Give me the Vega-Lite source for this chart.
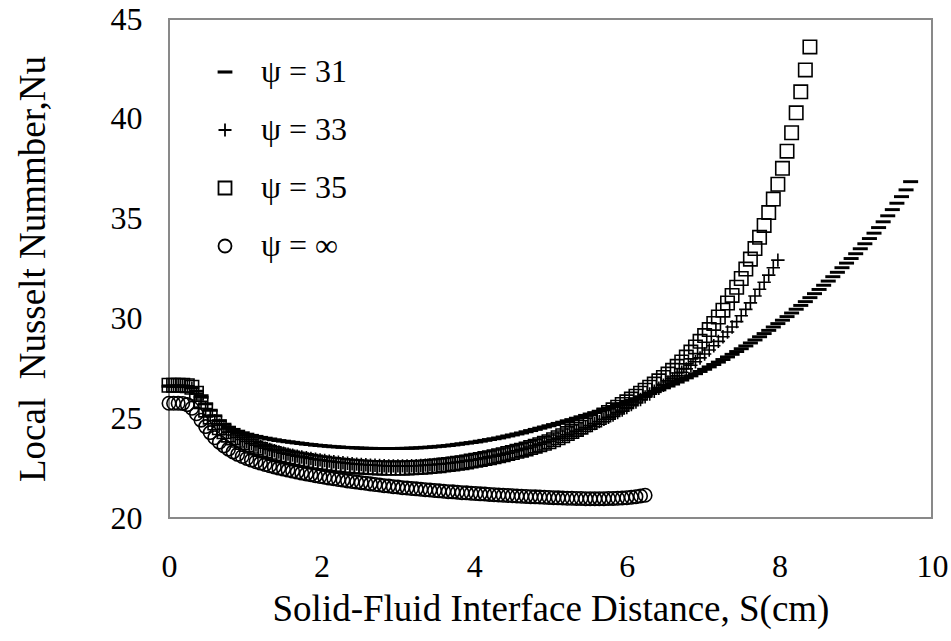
{
"$schema": "https://vega.github.io/schema/vega-lite/v6.json",
"autosize": {"type": "none"},
"width": 763,
"height": 499,
"padding": {"left": 169, "top": 19, "right": 19, "bottom": 123},
"background": "white",
"data": {"values": [
{"g":"31","s":0,"n":26.6},{"g":"31","s":0.06,"n":26.6},{"g":"31","s":0.12,"n":26.6},{"g":"31","s":0.18,"n":26.6},{"g":"31","s":0.24,"n":26.58},{"g":"31","s":0.3,"n":26.52},{"g":"31","s":0.36,"n":26.35},{"g":"31","s":0.42,"n":26.05},{"g":"31","s":0.48,"n":25.72},{"g":"31","s":0.54,"n":25.4},{"g":"31","s":0.6,"n":25.12},{"g":"31","s":0.66,"n":24.88},{"g":"31","s":0.72,"n":24.7},{"g":"31","s":0.78,"n":24.55},{"g":"31","s":0.84,"n":24.44},{"g":"31","s":0.9,"n":24.35},{"g":"31","s":0.96,"n":24.27},{"g":"31","s":1.02,"n":24.2},{"g":"31","s":1.08,"n":24.14},{"g":"31","s":1.14,"n":24.09},{"g":"31","s":1.2,"n":24.04},{"g":"31","s":1.26,"n":24.0},{"g":"31","s":1.32,"n":23.96},{"g":"31","s":1.38,"n":23.92},{"g":"31","s":1.44,"n":23.88},{"g":"31","s":1.5,"n":23.85},{"g":"31","s":1.56,"n":23.82},{"g":"31","s":1.62,"n":23.79},{"g":"31","s":1.68,"n":23.76},{"g":"31","s":1.74,"n":23.73},{"g":"31","s":1.8,"n":23.7},{"g":"31","s":1.86,"n":23.68},{"g":"31","s":1.92,"n":23.65},{"g":"31","s":1.98,"n":23.63},{"g":"31","s":2.04,"n":23.61},{"g":"31","s":2.1,"n":23.59},{"g":"31","s":2.16,"n":23.57},{"g":"31","s":2.22,"n":23.56},{"g":"31","s":2.28,"n":23.54},{"g":"31","s":2.34,"n":23.53},{"g":"31","s":2.4,"n":23.52},{"g":"31","s":2.46,"n":23.51},{"g":"31","s":2.52,"n":23.5},{"g":"31","s":2.58,"n":23.49},{"g":"31","s":2.64,"n":23.49},{"g":"31","s":2.7,"n":23.48},{"g":"31","s":2.76,"n":23.48},{"g":"31","s":2.82,"n":23.48},{"g":"31","s":2.88,"n":23.48},{"g":"31","s":2.94,"n":23.48},{"g":"31","s":3.0,"n":23.48},{"g":"31","s":3.06,"n":23.49},{"g":"31","s":3.12,"n":23.49},{"g":"31","s":3.18,"n":23.5},{"g":"31","s":3.24,"n":23.51},{"g":"31","s":3.3,"n":23.52},{"g":"31","s":3.36,"n":23.54},{"g":"31","s":3.42,"n":23.55},{"g":"31","s":3.48,"n":23.57},{"g":"31","s":3.54,"n":23.59},{"g":"31","s":3.6,"n":23.61},{"g":"31","s":3.66,"n":23.63},{"g":"31","s":3.72,"n":23.66},{"g":"31","s":3.78,"n":23.69},{"g":"31","s":3.84,"n":23.72},{"g":"31","s":3.9,"n":23.75},{"g":"31","s":3.96,"n":23.78},{"g":"31","s":4.02,"n":23.81},{"g":"31","s":4.08,"n":23.85},{"g":"31","s":4.14,"n":23.89},{"g":"31","s":4.2,"n":23.93},{"g":"31","s":4.26,"n":23.97},{"g":"31","s":4.32,"n":24.01},{"g":"31","s":4.38,"n":24.06},{"g":"31","s":4.44,"n":24.11},{"g":"31","s":4.5,"n":24.16},{"g":"31","s":4.56,"n":24.21},{"g":"31","s":4.62,"n":24.26},{"g":"31","s":4.68,"n":24.32},{"g":"31","s":4.74,"n":24.38},{"g":"31","s":4.8,"n":24.44},{"g":"31","s":4.86,"n":24.5},{"g":"31","s":4.92,"n":24.56},{"g":"31","s":4.98,"n":24.62},{"g":"31","s":5.04,"n":24.68},{"g":"31","s":5.1,"n":24.74},{"g":"31","s":5.16,"n":24.8},{"g":"31","s":5.22,"n":24.87},{"g":"31","s":5.28,"n":24.93},{"g":"31","s":5.34,"n":25.0},{"g":"31","s":5.4,"n":25.07},{"g":"31","s":5.46,"n":25.14},{"g":"31","s":5.52,"n":25.21},{"g":"31","s":5.58,"n":25.28},{"g":"31","s":5.64,"n":25.35},{"g":"31","s":5.7,"n":25.42},{"g":"31","s":5.76,"n":25.5},{"g":"31","s":5.82,"n":25.57},{"g":"31","s":5.88,"n":25.65},{"g":"31","s":5.94,"n":25.73},{"g":"31","s":6.0,"n":25.81},{"g":"31","s":6.06,"n":25.89},{"g":"31","s":6.12,"n":25.98},{"g":"31","s":6.18,"n":26.06},{"g":"31","s":6.24,"n":26.15},{"g":"31","s":6.3,"n":26.24},{"g":"31","s":6.36,"n":26.33},{"g":"31","s":6.42,"n":26.42},{"g":"31","s":6.48,"n":26.52},{"g":"31","s":6.54,"n":26.61},{"g":"31","s":6.6,"n":26.71},{"g":"31","s":6.66,"n":26.81},{"g":"31","s":6.72,"n":26.91},{"g":"31","s":6.78,"n":27.02},{"g":"31","s":6.84,"n":27.12},{"g":"31","s":6.9,"n":27.23},{"g":"31","s":6.96,"n":27.34},{"g":"31","s":7.02,"n":27.45},{"g":"31","s":7.08,"n":27.57},{"g":"31","s":7.14,"n":27.69},{"g":"31","s":7.2,"n":27.81},{"g":"31","s":7.26,"n":27.94},{"g":"31","s":7.32,"n":28.07},{"g":"31","s":7.38,"n":28.2},{"g":"31","s":7.44,"n":28.34},{"g":"31","s":7.5,"n":28.48},{"g":"31","s":7.56,"n":28.62},{"g":"31","s":7.62,"n":28.77},{"g":"31","s":7.68,"n":28.92},{"g":"31","s":7.74,"n":29.08},{"g":"31","s":7.8,"n":29.24},{"g":"31","s":7.86,"n":29.4},{"g":"31","s":7.92,"n":29.57},{"g":"31","s":7.98,"n":29.74},{"g":"31","s":8.04,"n":29.91},{"g":"31","s":8.1,"n":30.09},{"g":"31","s":8.16,"n":30.27},{"g":"31","s":8.22,"n":30.46},{"g":"31","s":8.28,"n":30.65},{"g":"31","s":8.34,"n":30.84},{"g":"31","s":8.4,"n":31.04},{"g":"31","s":8.46,"n":31.24},{"g":"31","s":8.52,"n":31.45},{"g":"31","s":8.58,"n":31.66},{"g":"31","s":8.64,"n":31.87},{"g":"31","s":8.7,"n":32.09},{"g":"31","s":8.76,"n":32.31},{"g":"31","s":8.82,"n":32.54},{"g":"31","s":8.88,"n":32.77},{"g":"31","s":8.94,"n":33.0},{"g":"31","s":9.0,"n":33.24},{"g":"31","s":9.06,"n":33.49},{"g":"31","s":9.12,"n":33.74},{"g":"31","s":9.18,"n":34.0},{"g":"31","s":9.24,"n":34.27},{"g":"31","s":9.3,"n":34.55},{"g":"31","s":9.36,"n":34.84},{"g":"31","s":9.42,"n":35.14},{"g":"31","s":9.48,"n":35.45},{"g":"31","s":9.54,"n":35.77},{"g":"31","s":9.6,"n":36.1},{"g":"31","s":9.66,"n":36.44},{"g":"31","s":9.72,"n":36.85},
{"g":"33","s":0,"n":26.65},{"g":"33","s":0.06,"n":26.65},{"g":"33","s":0.12,"n":26.65},{"g":"33","s":0.18,"n":26.65},{"g":"33","s":0.24,"n":26.62},{"g":"33","s":0.3,"n":26.5},{"g":"33","s":0.36,"n":26.22},{"g":"33","s":0.42,"n":25.85},{"g":"33","s":0.48,"n":25.48},{"g":"33","s":0.54,"n":25.15},{"g":"33","s":0.6,"n":24.88},{"g":"33","s":0.66,"n":24.65},{"g":"33","s":0.72,"n":24.46},{"g":"33","s":0.78,"n":24.3},{"g":"33","s":0.84,"n":24.16},{"g":"33","s":0.9,"n":24.04},{"g":"33","s":0.96,"n":23.93},{"g":"33","s":1.02,"n":23.83},{"g":"33","s":1.08,"n":23.74},{"g":"33","s":1.14,"n":23.65},{"g":"33","s":1.2,"n":23.57},{"g":"33","s":1.26,"n":23.5},{"g":"33","s":1.32,"n":23.43},{"g":"33","s":1.38,"n":23.37},{"g":"33","s":1.44,"n":23.31},{"g":"33","s":1.5,"n":23.25},{"g":"33","s":1.56,"n":23.2},{"g":"33","s":1.62,"n":23.15},{"g":"33","s":1.68,"n":23.1},{"g":"33","s":1.74,"n":23.06},{"g":"33","s":1.8,"n":23.02},{"g":"33","s":1.86,"n":22.98},{"g":"33","s":1.92,"n":22.94},{"g":"33","s":1.98,"n":22.91},{"g":"33","s":2.04,"n":22.88},{"g":"33","s":2.1,"n":22.85},{"g":"33","s":2.16,"n":22.82},{"g":"33","s":2.22,"n":22.79},{"g":"33","s":2.28,"n":22.77},{"g":"33","s":2.34,"n":22.74},{"g":"33","s":2.4,"n":22.72},{"g":"33","s":2.46,"n":22.7},{"g":"33","s":2.52,"n":22.68},{"g":"33","s":2.58,"n":22.67},{"g":"33","s":2.64,"n":22.65},{"g":"33","s":2.7,"n":22.64},{"g":"33","s":2.76,"n":22.63},{"g":"33","s":2.82,"n":22.62},{"g":"33","s":2.88,"n":22.61},{"g":"33","s":2.94,"n":22.61},{"g":"33","s":3.0,"n":22.61},{"g":"33","s":3.06,"n":22.61},{"g":"33","s":3.12,"n":22.61},{"g":"33","s":3.18,"n":22.62},{"g":"33","s":3.24,"n":22.62},{"g":"33","s":3.3,"n":22.63},{"g":"33","s":3.36,"n":22.65},{"g":"33","s":3.42,"n":22.66},{"g":"33","s":3.48,"n":22.68},{"g":"33","s":3.54,"n":22.7},{"g":"33","s":3.6,"n":22.72},{"g":"33","s":3.66,"n":22.74},{"g":"33","s":3.72,"n":22.77},{"g":"33","s":3.78,"n":22.8},{"g":"33","s":3.84,"n":22.83},{"g":"33","s":3.9,"n":22.86},{"g":"33","s":3.96,"n":22.9},{"g":"33","s":4.02,"n":22.93},{"g":"33","s":4.08,"n":22.97},{"g":"33","s":4.14,"n":23.01},{"g":"33","s":4.2,"n":23.06},{"g":"33","s":4.26,"n":23.1},{"g":"33","s":4.32,"n":23.15},{"g":"33","s":4.38,"n":23.2},{"g":"33","s":4.44,"n":23.25},{"g":"33","s":4.5,"n":23.31},{"g":"33","s":4.56,"n":23.37},{"g":"33","s":4.62,"n":23.43},{"g":"33","s":4.68,"n":23.49},{"g":"33","s":4.74,"n":23.56},{"g":"33","s":4.8,"n":23.63},{"g":"33","s":4.86,"n":23.7},{"g":"33","s":4.92,"n":23.77},{"g":"33","s":4.98,"n":23.84},{"g":"33","s":5.04,"n":23.92},{"g":"33","s":5.1,"n":24.0},{"g":"33","s":5.16,"n":24.09},{"g":"33","s":5.22,"n":24.17},{"g":"33","s":5.28,"n":24.26},{"g":"33","s":5.34,"n":24.35},{"g":"33","s":5.4,"n":24.44},{"g":"33","s":5.46,"n":24.53},{"g":"33","s":5.52,"n":24.63},{"g":"33","s":5.58,"n":24.73},{"g":"33","s":5.64,"n":24.83},{"g":"33","s":5.7,"n":24.94},{"g":"33","s":5.76,"n":25.05},{"g":"33","s":5.82,"n":25.16},{"g":"33","s":5.88,"n":25.28},{"g":"33","s":5.94,"n":25.41},{"g":"33","s":6.0,"n":25.54},{"g":"33","s":6.06,"n":25.68},{"g":"33","s":6.12,"n":25.81},{"g":"33","s":6.18,"n":25.94},{"g":"33","s":6.24,"n":26.07},{"g":"33","s":6.3,"n":26.21},{"g":"33","s":6.36,"n":26.35},{"g":"33","s":6.42,"n":26.5},{"g":"33","s":6.48,"n":26.65},{"g":"33","s":6.54,"n":26.81},{"g":"33","s":6.6,"n":26.97},{"g":"33","s":6.66,"n":27.13},{"g":"33","s":6.72,"n":27.3},{"g":"33","s":6.78,"n":27.47},{"g":"33","s":6.84,"n":27.65},{"g":"33","s":6.9,"n":27.83},{"g":"33","s":6.96,"n":28.02},{"g":"33","s":7.02,"n":28.22},{"g":"33","s":7.08,"n":28.42},{"g":"33","s":7.14,"n":28.63},{"g":"33","s":7.2,"n":28.85},{"g":"33","s":7.26,"n":29.08},{"g":"33","s":7.32,"n":29.32},{"g":"33","s":7.38,"n":29.57},{"g":"33","s":7.44,"n":29.84},{"g":"33","s":7.5,"n":30.13},{"g":"33","s":7.56,"n":30.45},{"g":"33","s":7.62,"n":30.78},{"g":"33","s":7.68,"n":31.12},{"g":"33","s":7.74,"n":31.46},{"g":"33","s":7.8,"n":31.81},{"g":"33","s":7.86,"n":32.17},{"g":"33","s":7.92,"n":32.54},{"g":"33","s":7.98,"n":32.92},
{"g":"35","s":0,"n":26.65},{"g":"35","s":0.06,"n":26.65},{"g":"35","s":0.12,"n":26.65},{"g":"35","s":0.18,"n":26.65},{"g":"35","s":0.24,"n":26.63},{"g":"35","s":0.3,"n":26.55},{"g":"35","s":0.36,"n":26.25},{"g":"35","s":0.42,"n":25.82},{"g":"35","s":0.48,"n":25.4},{"g":"35","s":0.54,"n":25.05},{"g":"35","s":0.6,"n":24.76},{"g":"35","s":0.66,"n":24.52},{"g":"35","s":0.72,"n":24.32},{"g":"35","s":0.78,"n":24.15},{"g":"35","s":0.84,"n":24.01},{"g":"35","s":0.9,"n":23.89},{"g":"35","s":0.96,"n":23.78},{"g":"35","s":1.02,"n":23.68},{"g":"35","s":1.08,"n":23.59},{"g":"35","s":1.14,"n":23.51},{"g":"35","s":1.2,"n":23.43},{"g":"35","s":1.26,"n":23.36},{"g":"35","s":1.32,"n":23.29},{"g":"35","s":1.38,"n":23.23},{"g":"35","s":1.44,"n":23.17},{"g":"35","s":1.5,"n":23.11},{"g":"35","s":1.56,"n":23.06},{"g":"35","s":1.62,"n":23.01},{"g":"35","s":1.68,"n":22.96},{"g":"35","s":1.74,"n":22.92},{"g":"35","s":1.8,"n":22.88},{"g":"35","s":1.86,"n":22.84},{"g":"35","s":1.92,"n":22.8},{"g":"35","s":1.98,"n":22.77},{"g":"35","s":2.04,"n":22.74},{"g":"35","s":2.1,"n":22.71},{"g":"35","s":2.16,"n":22.68},{"g":"35","s":2.22,"n":22.66},{"g":"35","s":2.28,"n":22.63},{"g":"35","s":2.34,"n":22.61},{"g":"35","s":2.4,"n":22.59},{"g":"35","s":2.46,"n":22.57},{"g":"35","s":2.52,"n":22.56},{"g":"35","s":2.58,"n":22.54},{"g":"35","s":2.64,"n":22.53},{"g":"35","s":2.7,"n":22.52},{"g":"35","s":2.76,"n":22.51},{"g":"35","s":2.82,"n":22.5},{"g":"35","s":2.88,"n":22.5},{"g":"35","s":2.94,"n":22.5},{"g":"35","s":3.0,"n":22.5},{"g":"35","s":3.06,"n":22.5},{"g":"35","s":3.12,"n":22.51},{"g":"35","s":3.18,"n":22.52},{"g":"35","s":3.24,"n":22.53},{"g":"35","s":3.3,"n":22.54},{"g":"35","s":3.36,"n":22.56},{"g":"35","s":3.42,"n":22.58},{"g":"35","s":3.48,"n":22.6},{"g":"35","s":3.54,"n":22.62},{"g":"35","s":3.6,"n":22.65},{"g":"35","s":3.66,"n":22.68},{"g":"35","s":3.72,"n":22.71},{"g":"35","s":3.78,"n":22.74},{"g":"35","s":3.84,"n":22.77},{"g":"35","s":3.9,"n":22.81},{"g":"35","s":3.96,"n":22.85},{"g":"35","s":4.02,"n":22.89},{"g":"35","s":4.08,"n":22.93},{"g":"35","s":4.14,"n":22.98},{"g":"35","s":4.2,"n":23.02},{"g":"35","s":4.26,"n":23.07},{"g":"35","s":4.32,"n":23.12},{"g":"35","s":4.38,"n":23.17},{"g":"35","s":4.44,"n":23.23},{"g":"35","s":4.5,"n":23.28},{"g":"35","s":4.56,"n":23.34},{"g":"35","s":4.62,"n":23.4},{"g":"35","s":4.68,"n":23.46},{"g":"35","s":4.74,"n":23.53},{"g":"35","s":4.8,"n":23.6},{"g":"35","s":4.86,"n":23.67},{"g":"35","s":4.92,"n":23.74},{"g":"35","s":4.98,"n":23.82},{"g":"35","s":5.04,"n":23.92},{"g":"35","s":5.1,"n":24.02},{"g":"35","s":5.16,"n":24.12},{"g":"35","s":5.22,"n":24.23},{"g":"35","s":5.28,"n":24.33},{"g":"35","s":5.34,"n":24.44},{"g":"35","s":5.4,"n":24.55},{"g":"35","s":5.46,"n":24.67},{"g":"35","s":5.52,"n":24.79},{"g":"35","s":5.58,"n":24.91},{"g":"35","s":5.64,"n":25.03},{"g":"35","s":5.7,"n":25.16},{"g":"35","s":5.76,"n":25.29},{"g":"35","s":5.82,"n":25.42},{"g":"35","s":5.88,"n":25.55},{"g":"35","s":5.94,"n":25.69},{"g":"35","s":6.0,"n":25.82},{"g":"35","s":6.06,"n":25.96},{"g":"35","s":6.12,"n":26.1},{"g":"35","s":6.18,"n":26.25},{"g":"35","s":6.24,"n":26.4},{"g":"35","s":6.3,"n":26.55},{"g":"35","s":6.36,"n":26.71},{"g":"35","s":6.42,"n":26.87},{"g":"35","s":6.48,"n":27.04},{"g":"35","s":6.54,"n":27.21},{"g":"35","s":6.6,"n":27.4},{"g":"35","s":6.66,"n":27.6},{"g":"35","s":6.72,"n":27.82},{"g":"35","s":6.78,"n":28.06},{"g":"35","s":6.84,"n":28.31},{"g":"35","s":6.9,"n":28.57},{"g":"35","s":6.96,"n":28.85},{"g":"35","s":7.02,"n":29.14},{"g":"35","s":7.08,"n":29.44},{"g":"35","s":7.14,"n":29.75},{"g":"35","s":7.2,"n":30.07},{"g":"35","s":7.26,"n":30.41},{"g":"35","s":7.32,"n":30.77},{"g":"35","s":7.38,"n":31.15},{"g":"35","s":7.44,"n":31.56},{"g":"35","s":7.5,"n":32.0},{"g":"35","s":7.56,"n":32.47},{"g":"35","s":7.62,"n":32.97},{"g":"35","s":7.68,"n":33.5},{"g":"35","s":7.74,"n":34.06},{"g":"35","s":7.8,"n":34.66},{"g":"35","s":7.86,"n":35.3},{"g":"35","s":7.92,"n":35.98},{"g":"35","s":7.98,"n":36.72},{"g":"35","s":8.04,"n":37.52},{"g":"35","s":8.1,"n":38.38},{"g":"35","s":8.16,"n":39.3},{"g":"35","s":8.22,"n":40.3},{"g":"35","s":8.28,"n":41.35},{"g":"35","s":8.34,"n":42.45},{"g":"35","s":8.4,"n":43.6},
{"g":"∞","s":0,"n":25.75},{"g":"∞","s":0.06,"n":25.75},{"g":"∞","s":0.12,"n":25.75},{"g":"∞","s":0.18,"n":25.74},{"g":"∞","s":0.24,"n":25.68},{"g":"∞","s":0.3,"n":25.5},{"g":"∞","s":0.36,"n":25.22},{"g":"∞","s":0.42,"n":24.9},{"g":"∞","s":0.48,"n":24.58},{"g":"∞","s":0.54,"n":24.28},{"g":"∞","s":0.6,"n":24.02},{"g":"∞","s":0.66,"n":23.8},{"g":"∞","s":0.72,"n":23.61},{"g":"∞","s":0.78,"n":23.45},{"g":"∞","s":0.84,"n":23.31},{"g":"∞","s":0.9,"n":23.19},{"g":"∞","s":0.96,"n":23.08},{"g":"∞","s":1.02,"n":22.98},{"g":"∞","s":1.08,"n":22.9},{"g":"∞","s":1.14,"n":22.82},{"g":"∞","s":1.2,"n":22.75},{"g":"∞","s":1.26,"n":22.68},{"g":"∞","s":1.32,"n":22.62},{"g":"∞","s":1.38,"n":22.56},{"g":"∞","s":1.44,"n":22.5},{"g":"∞","s":1.5,"n":22.45},{"g":"∞","s":1.56,"n":22.4},{"g":"∞","s":1.62,"n":22.35},{"g":"∞","s":1.68,"n":22.3},{"g":"∞","s":1.74,"n":22.25},{"g":"∞","s":1.8,"n":22.21},{"g":"∞","s":1.86,"n":22.17},{"g":"∞","s":1.92,"n":22.12},{"g":"∞","s":1.98,"n":22.08},{"g":"∞","s":2.04,"n":22.04},{"g":"∞","s":2.1,"n":22.0},{"g":"∞","s":2.16,"n":21.97},{"g":"∞","s":2.22,"n":21.93},{"g":"∞","s":2.28,"n":21.9},{"g":"∞","s":2.34,"n":21.86},{"g":"∞","s":2.4,"n":21.83},{"g":"∞","s":2.46,"n":21.8},{"g":"∞","s":2.52,"n":21.77},{"g":"∞","s":2.58,"n":21.74},{"g":"∞","s":2.64,"n":21.71},{"g":"∞","s":2.7,"n":21.68},{"g":"∞","s":2.76,"n":21.65},{"g":"∞","s":2.82,"n":21.62},{"g":"∞","s":2.88,"n":21.6},{"g":"∞","s":2.94,"n":21.57},{"g":"∞","s":3.0,"n":21.55},{"g":"∞","s":3.06,"n":21.52},{"g":"∞","s":3.12,"n":21.5},{"g":"∞","s":3.18,"n":21.48},{"g":"∞","s":3.24,"n":21.46},{"g":"∞","s":3.3,"n":21.44},{"g":"∞","s":3.36,"n":21.42},{"g":"∞","s":3.42,"n":21.4},{"g":"∞","s":3.48,"n":21.38},{"g":"∞","s":3.54,"n":21.36},{"g":"∞","s":3.6,"n":21.34},{"g":"∞","s":3.66,"n":21.32},{"g":"∞","s":3.72,"n":21.31},{"g":"∞","s":3.78,"n":21.29},{"g":"∞","s":3.84,"n":21.27},{"g":"∞","s":3.9,"n":21.26},{"g":"∞","s":3.96,"n":21.24},{"g":"∞","s":4.02,"n":21.23},{"g":"∞","s":4.08,"n":21.21},{"g":"∞","s":4.14,"n":21.2},{"g":"∞","s":4.2,"n":21.18},{"g":"∞","s":4.26,"n":21.17},{"g":"∞","s":4.32,"n":21.15},{"g":"∞","s":4.38,"n":21.14},{"g":"∞","s":4.44,"n":21.13},{"g":"∞","s":4.5,"n":21.12},{"g":"∞","s":4.56,"n":21.1},{"g":"∞","s":4.62,"n":21.09},{"g":"∞","s":4.68,"n":21.08},{"g":"∞","s":4.74,"n":21.07},{"g":"∞","s":4.8,"n":21.06},{"g":"∞","s":4.86,"n":21.05},{"g":"∞","s":4.92,"n":21.04},{"g":"∞","s":4.98,"n":21.03},{"g":"∞","s":5.04,"n":21.02},{"g":"∞","s":5.1,"n":21.01},{"g":"∞","s":5.16,"n":21.0},{"g":"∞","s":5.22,"n":20.99},{"g":"∞","s":5.28,"n":20.99},{"g":"∞","s":5.34,"n":20.98},{"g":"∞","s":5.4,"n":20.98},{"g":"∞","s":5.46,"n":20.97},{"g":"∞","s":5.52,"n":20.97},{"g":"∞","s":5.58,"n":20.97},{"g":"∞","s":5.64,"n":20.97},{"g":"∞","s":5.7,"n":20.97},{"g":"∞","s":5.76,"n":20.98},{"g":"∞","s":5.82,"n":20.98},{"g":"∞","s":5.88,"n":20.99},{"g":"∞","s":5.94,"n":21.0},{"g":"∞","s":6.0,"n":21.02},{"g":"∞","s":6.06,"n":21.04},{"g":"∞","s":6.12,"n":21.07},{"g":"∞","s":6.18,"n":21.1},{"g":"∞","s":6.24,"n":21.14}
]},
"mark": {"type": "point", "filled": false, "color": "black", "stroke": "black", "strokeWidth": 1.6, "opacity": 1, "size": 180, "clip": false},
"encoding": {
  "x": {"field": "s", "type": "quantitative", "title": "Solid-Fluid Interface Distance, S(cm)",
        "scale": {"domain": [0, 10], "nice": false, "zero": false},
        "axis": {"values": [0, 2, 4, 6, 8, 10], "labelPadding": 33, "titlePadding": 9}},
  "y": {"field": "n", "type": "quantitative", "title": "Local \u00a0Nusselt Nummber,Nu",
        "scale": {"domain": [20, 45], "nice": false, "zero": false},
        "axis": {"values": [20, 25, 30, 35, 40, 45], "labelPadding": 27, "titlePadding": 58}},
  "shape": {"field": "g", "type": "nominal",
        "scale": {"domain": ["31", "33", "35", "∞"], "range": ["M-1,-0.1H1V0.1H-1Z", "M-1,0H1M0,-1V1", "square", "circle"]},
        "legend": {"title": null, "orient": "none", "legendX": 40, "legendY": 37, "labelExpr": "'ψ = ' + datum.label"}}
},
"config": {
  "font": "Liberation Serif",
  "view": {"stroke": "#898989", "strokeWidth": 2},
  "axis": {"domain": false, "ticks": false, "tickSize": 0, "grid": false, "labelFlush": false, "labelOverlap": false,
           "labelFont": "Liberation Serif", "labelFontSize": 32, "labelColor": "black",
           "titleFont": "Liberation Serif", "titleFontSize": 37, "titleFontWeight": "normal", "titleColor": "black"},
  "legend": {"padding": 0, "labelFont": "Liberation Serif", "labelFontSize": 32, "labelColor": "black", "labelOffset": 20,
             "symbolSize": 169, "symbolStrokeColor": "black", "symbolStrokeWidth": 1.8, "symbolFillColor": "transparent",
             "symbolOpacity": 1, "rowPadding": 26}
}
}
